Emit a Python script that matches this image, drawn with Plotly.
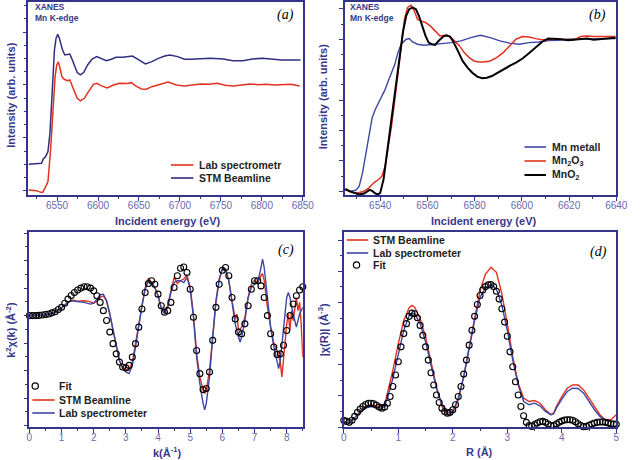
import plotly.graph_objects as go

# ---------------- data ----------------
# (a) XANES Mn K-edge
a_lab_E = [6515.1, 6525.0, 6530.2, 6532.6, 6536.1, 6538.9, 6542.1, 6544.8, 6547.6, 6549.6,
           6551.6, 6553.6, 6555.9, 6558.7, 6562.7, 6565.5, 6569.8, 6574.6, 6578.5, 6583.3,
           6588.4, 6594.4, 6598.4, 6604.3, 6611.4, 6618.2, 6626.1, 6636.0, 6640.8, 6645.9,
           6653.1, 6659.0, 6665.7, 6676.0, 6685.6, 6695.5, 6705.4, 6715.3, 6725.2, 6735.5,
           6745.4, 6755.3, 6765.2, 6775.5, 6785.4, 6795.3, 6805.3, 6815.6, 6825.5, 6835.4, 6846.1]
a_lab_I = [0.006, 0.0, -0.016, -0.016, 0.038, 0.085, 0.385, 0.763, 1.079, 1.189,
           1.218, 1.158, 1.079, 1.054, 1.041, 1.047, 0.968, 0.874, 0.849, 0.874,
           0.937, 1.006, 1.016, 0.991, 0.972, 0.997, 1.016, 1.013, 1.022, 0.991,
           0.962, 0.959, 0.984, 1.009, 1.028, 1.0, 0.991, 1.0, 1.009, 1.006,
           1.016, 0.997, 0.991, 1.0, 1.009, 1.003, 1.006, 1.0, 1.003, 1.006, 0.991]
a_stm_E = [6515.1, 6527.0, 6531.0, 6533.0, 6536.1, 6538.9, 6541.3, 6542.9, 6544.8, 6546.8,
           6548.8, 6550.8, 6552.8, 6554.8, 6556.7, 6559.5, 6562.7, 6565.5, 6567.8, 6570.6,
           6574.6, 6578.5, 6582.5, 6587.3, 6592.4, 6598.4, 6604.3, 6610.2, 6616.2, 6622.1,
           6630.1, 6636.0, 6642.0, 6649.9, 6657.8, 6665.7, 6673.7, 6681.6, 6687.5, 6697.4,
           6705.4, 6713.3, 6725.2, 6737.1, 6752.9, 6764.8, 6776.7, 6788.6, 6800.5, 6812.4,
           6824.3, 6836.2, 6847.3]
a_stm_I = [0.249, 0.252, 0.259, 0.297, 0.322, 0.369, 0.543, 0.763, 1.079, 1.331,
           1.442, 1.479, 1.442, 1.379, 1.331, 1.284, 1.290, 1.293, 1.252, 1.189,
           1.117, 1.095, 1.117, 1.189, 1.243, 1.268, 1.252, 1.230, 1.243, 1.262,
           1.262, 1.268, 1.274, 1.237, 1.199, 1.221, 1.252, 1.274, 1.284, 1.268,
           1.243, 1.243, 1.249, 1.252, 1.246, 1.230, 1.230, 1.246, 1.252, 1.243,
           1.237, 1.237, 1.237]

# (b) references
b_mn_E = [6525.2, 6527.7, 6529.7, 6531.1, 6532.5, 6533.8, 6535.2, 6536.6, 6537.9, 6539.3,
          6540.7, 6542.1, 6543.4, 6544.8, 6546.2, 6547.5, 6548.9, 6551.0, 6552.3, 6553.7,
          6555.8, 6558.5, 6561.9, 6566.0, 6570.1, 6574.2, 6578.4, 6582.5, 6586.6, 6590.7,
          6594.8, 6598.9, 6603.0, 6607.1, 6611.2, 6615.3, 6619.5, 6623.6, 6629.0, 6634.5, 6639.7]
b_mn_I = [0.007, 0.0, 0.007, 0.033, 0.121, 0.231, 0.363, 0.484, 0.538, 0.582,
          0.615, 0.670, 0.725, 0.780, 0.835, 0.912, 0.967, 1.0, 1.004, 0.982,
          0.967, 0.960, 0.967, 0.971, 0.978, 0.989, 1.011, 1.026, 1.011, 0.989,
          0.974, 0.967, 0.978, 0.982, 0.991, 0.993, 1.0, 1.0, 1.0, 1.004, 1.004]
b_mn2o3_E = [6525.2, 6527.7, 6530.4, 6533.2, 6535.2, 6537.3, 6539.3, 6540.7, 6542.1, 6543.4,
             6544.8, 6546.2, 6547.5, 6548.9, 6550.3, 6551.6, 6553.0, 6554.4, 6555.8, 6557.1,
             6559.2, 6561.2, 6563.3, 6565.3, 6567.4, 6569.5, 6571.5, 6573.6, 6575.6, 6577.7,
             6579.7, 6581.8, 6583.8, 6586.6, 6589.3, 6592.1, 6594.8, 6597.5, 6600.3, 6603.0,
             6605.8, 6608.5, 6611.2, 6614.0, 6616.7, 6619.5, 6622.2, 6624.9, 6627.7, 6630.4,
             6633.2, 6635.9, 6639.7]
b_mn2o3_I = [0.011, -0.007, -0.011, 0.0, 0.022, 0.055, 0.077, 0.099, 0.165, 0.297,
             0.429, 0.604, 0.780, 0.956, 1.132, 1.209, 1.224, 1.187, 1.132, 1.121,
             1.110, 1.088, 1.055, 1.022, 1.026, 1.018, 0.989, 0.956, 0.912, 0.879,
             0.857, 0.851, 0.851, 0.857, 0.879, 0.912, 0.956, 1.0, 1.018, 1.015,
             1.004, 0.996, 0.996, 1.004, 1.0, 0.996, 0.996, 1.018, 1.022, 1.018,
             1.018, 1.018, 1.018]
b_mno2_E = [6525.2, 6527.0, 6529.0, 6531.1, 6533.2, 6534.5, 6535.5, 6536.6, 6537.9, 6539.0,
            6540.0, 6541.4, 6542.7, 6544.1, 6545.5, 6546.8, 6548.2, 6549.6, 6551.0, 6552.3,
            6553.7, 6555.1, 6556.4, 6557.8, 6559.2, 6560.5, 6561.9, 6563.3, 6564.7, 6566.7,
            6568.1, 6569.5, 6570.8, 6572.9, 6574.9, 6577.0, 6579.0, 6581.1, 6583.2, 6585.2,
            6587.3, 6589.3, 6592.1, 6594.8, 6597.5, 6600.3, 6603.0, 6605.8, 6608.5, 6611.2,
            6614.0, 6616.7, 6619.5, 6622.2, 6624.9, 6627.7, 6630.4, 6633.2, 6635.9, 6639.7]
b_mno2_I = [0.015, 0.0, -0.011, -0.022, -0.015, 0.0, 0.009, 0.002, -0.015, -0.022,
            -0.011, 0.077, 0.231, 0.385, 0.538, 0.714, 0.890, 1.044, 1.154, 1.198,
            1.209, 1.198, 1.154, 1.088, 1.022, 0.978, 0.967, 0.963, 0.989, 1.018,
            1.026, 1.018, 0.989, 0.923, 0.857, 0.813, 0.780, 0.754, 0.743, 0.747,
            0.758, 0.776, 0.798, 0.824, 0.846, 0.873, 0.908, 0.945, 0.982, 1.004,
            1.004, 1.0, 0.993, 0.996, 1.0, 1.004, 0.996, 1.0, 1.004, 1.009]

# (c) k^2 chi(k)
c_fit_k = [round(0.1 * i, 1) for i in range(86)]
c_fit_chi = [0.0, 0.0, 0.0, 0.01, 0.02, 0.04, 0.06, 0.10, 0.14, 0.22,
             0.30, 0.45, 0.60, 0.73, 0.84, 0.93, 1.00, 1.05, 1.05, 1.00,
             0.90, 0.72, 0.48, 0.18, -0.18, -0.60, -1.02, -1.39, -1.69, -1.87,
             -1.90, -1.81, -1.51, -1.02, -0.42, 0.24, 0.84, 1.17, 1.27, 1.14,
             0.78, 0.36, 0.12, 0.18, 0.48, 1.02, 1.45, 1.72, 1.77, 1.57,
             0.96, -0.06, -1.27, -2.11, -2.69, -2.65, -2.05, -0.90, 0.30, 1.14,
             1.65, 1.75, 1.45, 0.66, -0.12, -0.60, -0.66, -0.30, 0.36, 0.96,
             1.27, 1.27, 1.08, 0.66, 0.00, -0.66, -1.14, -1.41, -1.39, -1.08,
             -0.54, 0.00, 0.42, 0.72, 0.93, 1.05]
c_stm_k = [0.0, 0.2, 0.4, 0.6, 0.8, 1.0, 1.2, 1.35, 1.5, 1.7, 1.85, 2.0, 2.1, 2.2, 2.3, 2.4,
           2.5, 2.6, 2.7, 2.8, 2.9, 3.0, 3.1, 3.2, 3.3, 3.4, 3.5, 3.6, 3.7, 3.8, 3.9, 4.0,
           4.1, 4.2, 4.3, 4.4, 4.5, 4.6, 4.7, 4.8, 4.9, 5.0, 5.1, 5.2, 5.3, 5.4, 5.45, 5.5,
           5.6, 5.7, 5.8, 5.9, 6.0, 6.1, 6.2, 6.3, 6.4, 6.45, 6.5, 6.6, 6.7, 6.8, 6.9, 7.0,
           7.1, 7.2, 7.25, 7.3, 7.4, 7.5, 7.6, 7.7, 7.8, 7.85, 7.9, 8.0, 8.05, 8.1, 8.15, 8.2,
           8.3, 8.35, 8.4, 8.45, 8.5]
c_stm_chi = [0.0, 0.0, 0.02, 0.06, 0.13, 0.28, 0.48, 0.57, 0.52, 0.54, 0.52, 0.45, 0.52, 0.66, 0.72, 0.54,
             0.06, -0.54, -1.14, -1.63, -1.87, -1.96, -1.99, -1.69, -1.02, -0.30, 0.42, 1.02, 1.36, 1.20, 1.02, 0.72,
             0.30, 0.12, 0.36, 0.90, 1.39, 1.17, 1.27, 1.33, 1.48, 1.02, 0.06, -1.39, -2.23, -2.71, -2.83, -2.71,
             -1.99, -0.78, 0.48, 1.27, 1.69, 1.63, 1.27, 0.54, -0.12, 0.06, -0.54, -0.42, -0.06, 0.66, 1.14, 1.29,
             1.20, 1.45, 1.53, 1.27, 0.30, -0.42, -1.02, -1.27, -1.69, -2.23, -1.51, -0.30, 0.06, -0.54, 0.18, -0.18,
             0.66, 0.18, 0.48, -0.30, -1.51]
c_lab_k = [0.0, 0.2, 0.4, 0.6, 0.8, 1.0, 1.2, 1.3, 1.5, 1.7, 1.9, 2.0, 2.1, 2.2, 2.3, 2.4,
           2.5, 2.6, 2.7, 2.8, 2.9, 3.0, 3.1, 3.2, 3.3, 3.4, 3.5, 3.6, 3.7, 3.8, 3.9, 4.0,
           4.1, 4.2, 4.3, 4.4, 4.5, 4.6, 4.7, 4.8, 4.9, 5.0, 5.1, 5.2, 5.3, 5.4, 5.45, 5.5,
           5.6, 5.7, 5.8, 5.9, 6.0, 6.1, 6.2, 6.3, 6.4, 6.5, 6.55, 6.6, 6.7, 6.8, 6.9, 7.0,
           7.1, 7.2, 7.25, 7.3, 7.4, 7.5, 7.6, 7.7, 7.75, 7.8, 7.9, 8.0, 8.05, 8.1, 8.2, 8.3,
           8.4, 8.5]
c_lab_chi = [0.0, 0.0, 0.02, 0.06, 0.13, 0.28, 0.49, 0.54, 0.52, 0.48, 0.42, 0.45, 0.60, 0.76, 0.78, 0.54,
             0.06, -0.54, -1.14, -1.63, -1.93, -2.05, -2.11, -1.81, -1.14, -0.36, 0.36, 0.96, 1.27, 1.20, 1.02, 0.72,
             0.24, 0.08, 0.30, 0.84, 1.20, 1.27, 1.27, 1.20, 1.39, 0.96, -0.06, -1.51, -2.47, -3.19, -3.43, -3.19,
             -2.23, -0.78, 0.54, 1.33, 1.72, 1.69, 1.27, 0.48, -0.30, -0.78, -0.96, -0.78, -0.18, 0.66, 1.02, 1.14,
             1.20, 1.75, 2.05, 1.75, 0.66, -0.42, -1.14, -1.75, -1.93, -1.63, -0.54, 0.66, 0.84, 0.66, 0.06, -0.42,
             0.06, 0.30]

# (d) |chi(R)|
d_R = [0.0, 0.1, 0.2, 0.3, 0.4, 0.5, 0.6, 0.7, 0.75, 0.8, 0.9, 1.0, 1.1, 1.2, 1.25, 1.3, 1.4,
       1.5, 1.6, 1.7, 1.8, 1.9, 1.95, 2.0, 2.1, 2.2, 2.3, 2.4, 2.5, 2.6, 2.7, 2.8, 2.9,
       3.0, 3.1, 3.2, 3.3, 3.4, 3.5, 3.6, 3.7, 3.8, 3.85, 3.9, 4.0, 4.1, 4.2, 4.3, 4.4,
       4.5, 4.6, 4.7, 4.8, 4.9, 5.0]
d_stm = [0.036, 0.026, 0.057, 0.100, 0.132, 0.143, 0.136, 0.132, 0.143, 0.217, 0.366, 0.536, 0.685, 0.766, 0.781, 0.770, 0.696,
         0.579, 0.409, 0.260, 0.132, 0.079, 0.072, 0.089, 0.174, 0.323, 0.515, 0.706, 0.877, 0.983, 1.026, 0.994, 0.855,
         0.664, 0.451, 0.281, 0.185, 0.164, 0.170, 0.153, 0.111, 0.079, 0.089, 0.132, 0.196, 0.249, 0.270, 0.270, 0.238,
         0.185, 0.132, 0.079, 0.047, 0.047, 0.079]
d_lab = [0.036, 0.026, 0.057, 0.094, 0.121, 0.132, 0.126, 0.121, 0.136, 0.185, 0.313, 0.472, 0.621, 0.717, 0.732, 0.728, 0.664,
         0.547, 0.387, 0.249, 0.143, 0.094, 0.089, 0.100, 0.185, 0.323, 0.504, 0.685, 0.834, 0.898, 0.915, 0.887, 0.781,
         0.621, 0.430, 0.270, 0.164, 0.143, 0.153, 0.136, 0.100, 0.079, 0.085, 0.121, 0.179, 0.228, 0.249, 0.247, 0.217,
         0.164, 0.111, 0.068, 0.043, 0.036, 0.036]
d_fit_R = [round(0.05 * i, 2) for i in range(101)]
d_fit = [0.043, 0.036, 0.030, 0.043, 0.068, 0.094, 0.115, 0.132, 0.145, 0.153,
         0.153, 0.149, 0.140, 0.128, 0.121, 0.128, 0.153, 0.196, 0.260, 0.334,
         0.419, 0.515, 0.600, 0.664, 0.711, 0.732, 0.728, 0.702, 0.653, 0.589,
         0.515, 0.430, 0.349, 0.270, 0.206, 0.157, 0.121, 0.100, 0.089, 0.094,
         0.111, 0.143, 0.196, 0.260, 0.340, 0.430, 0.526, 0.621, 0.711, 0.787,
         0.845, 0.881, 0.902, 0.913, 0.915, 0.902, 0.872, 0.823, 0.760, 0.674,
         0.583, 0.483, 0.387, 0.291, 0.206, 0.132, 0.072, 0.030, 0.009, 0.004,
         0.015, 0.026, 0.034, 0.036, 0.030, 0.019, 0.009, 0.009, 0.019, 0.030,
         0.038, 0.045, 0.047, 0.047, 0.043, 0.034, 0.021, 0.009, 0.002, 0.004,
         0.011, 0.019, 0.026, 0.030, 0.032, 0.032, 0.030, 0.026, 0.021, 0.019, 0.017]

# ---------------- style ----------------
W, H = 640, 460
FONT = "Liberation Sans, Arial, sans-serif"
SERIF = "Liberation Serif, Times New Roman, serif"
AX = "#34348a"
TICK = "#6a6ab0"
TITLE = "#38388a"
RED = "#e2321f"
NAVY = "#2f2f80"
BLUE = "#3c46a8"
LEG = "#1e1e1e"


def px(x):
    return x / W


def py(y):
    return 1 - y / H


def axis(domain, rng, dtick, mdtick, labels, anchor, tick0=0):
    return dict(domain=domain, range=rng, anchor=anchor, showline=True, mirror=True,
                linecolor=AX, linewidth=1.5, ticks="outside", ticklen=4, tickwidth=1.2,
                tickcolor=AX, tick0=tick0, dtick=dtick, showgrid=False, zeroline=False,
                showticklabels=labels, ticklabelstandoff=-4,
                tickfont=dict(family=FONT, size=10, color=TICK),
                minor=dict(dtick=mdtick, ticks="outside", ticklen=2.5, tickwidth=1,
                           tickcolor=AX, showgrid=False))


fig = go.Figure()
fig.add_trace(go.Scatter(x=a_lab_E, y=a_lab_I, mode="lines", line=dict(color=RED, width=1.5),
                         xaxis="x", yaxis="y", showlegend=False))
fig.add_trace(go.Scatter(x=a_stm_E, y=a_stm_I, mode="lines", line=dict(color=NAVY, width=1.5),
                         xaxis="x", yaxis="y", showlegend=False))
fig.add_trace(go.Scatter(x=b_mn_E, y=b_mn_I, mode="lines", line=dict(color=BLUE, width=1.4),
                         xaxis="x2", yaxis="y2", showlegend=False))
fig.add_trace(go.Scatter(x=b_mn2o3_E, y=b_mn2o3_I, mode="lines", line=dict(color=RED, width=1.5),
                         xaxis="x2", yaxis="y2", showlegend=False))
fig.add_trace(go.Scatter(x=b_mno2_E, y=b_mno2_I, mode="lines", line=dict(color="#000000", width=2),
                         xaxis="x2", yaxis="y2", showlegend=False))
fit_marker = dict(symbol="circle-open", size=6, color="#000000", line=dict(width=1.1, color="#000000"))
fig.add_trace(go.Scatter(x=c_stm_k, y=c_stm_chi, mode="lines", line=dict(color=RED, width=1.4),
                         xaxis="x3", yaxis="y3", showlegend=False))
fig.add_trace(go.Scatter(x=c_lab_k, y=c_lab_chi, mode="lines", line=dict(color=BLUE, width=1.4),
                         xaxis="x3", yaxis="y3", showlegend=False))
fig.add_trace(go.Scatter(x=c_fit_k, y=c_fit_chi, mode="markers", marker=fit_marker, cliponaxis=False,
                         xaxis="x3", yaxis="y3", showlegend=False))
fig.add_trace(go.Scatter(x=d_R, y=d_stm, mode="lines", line=dict(color=RED, width=1.4),
                         xaxis="x4", yaxis="y4", showlegend=False))
fig.add_trace(go.Scatter(x=d_R, y=d_lab, mode="lines", line=dict(color=BLUE, width=1.4),
                         xaxis="x4", yaxis="y4", showlegend=False))
fig.add_trace(go.Scatter(x=d_fit_R, y=d_fit, mode="markers", marker=fit_marker, cliponaxis=False,
                         xaxis="x4", yaxis="y4", showlegend=False))

top_dom = [py(195), py(2)]
bot_dom = [py(427), py(232)]
fig.update_layout(
    width=W, height=H, margin=dict(l=0, r=0, t=0, b=0),
    paper_bgcolor="white", plot_bgcolor="white", showlegend=False,
    font=dict(family=FONT),
    xaxis=axis([px(26), px(307)], [6515, 6850], 50, 25, True, "y"),
    yaxis=axis(top_dom, [-0.041, 1.785], 0.5, 0.125, False, "x"),
    xaxis2=axis([px(350), px(628)], [6525, 6640], 20, 10, True, "y2"),
    yaxis2=axis(top_dom, [-0.025, 1.245], 0.2, 0.1, False, "x2"),
    xaxis3=axis([px(27), px(307)], [0, 8.5], 1, 0.5, True, "y3"),
    yaxis3=axis(bot_dom, [-4.05, 3.04], 1, 0.5, False, "x3"),
    xaxis4=axis([px(349), px(628)], [0, 5], 1, 0.5, True, "y4"),
    yaxis4=axis(bot_dom, [0, 1.253], 0.2, 0.1, False, "x4"),
)

ann = []


def text(x, y, t, size=11, color=TITLE, xanchor="left", angle=0, family=FONT, bold=True):
    ann.append(dict(x=px(x), y=py(y), xref="paper", yref="paper", showarrow=False,
                    text=("<b>%s</b>" % t) if bold else t, textangle=angle,
                    xanchor=xanchor, yanchor="middle",
                    font=dict(family=family, size=size, color=color)))


# axis titles
text(168, 221, "Incident energy (eV)", xanchor="center")
text(492, 221, "Incident energy (eV)", xanchor="center")
text(168, 452, "k(Å<sup>-1</sup>)", xanchor="center")
text(488, 452, "R (Å)", xanchor="center")
text(8, 95, "Intensity (arb. units)", xanchor="center", angle=-90)
text(328, 97, "Intensity (arb. units)", xanchor="center", angle=-90)
text(8, 330, "k<sup>2</sup>χ(k) (Å<sup>-2</sup>)", xanchor="center", angle=-90)
text(328, 330, "|χ(R)| (Å<sup>-3</sup>)", xanchor="center", angle=-90)

# XANES labels
for x0 in (31, 353):
    text(x0, 7, "XANES", size=8.5)
    text(x0, 18, "Mn K-edge", size=8.5)

# panel labels
for (x0, y0, lab) in [(289, 15, "a"), (609, 15, "b"), (290, 250, "c"), (610, 252, "d")]:
    text(x0, y0, "<i>(%s)</i>" % lab, size=14, color="#000000", xanchor="center",
         family=SERIF, bold=False)

shapes = []


def leg_line(x0, x1, y, color, width=1.6):
    shapes.append(dict(type="line", xref="paper", yref="paper", x0=px(x0), x1=px(x1),
                       y0=py(y), y1=py(y), line=dict(color=color, width=width)))


def leg_circle(cx, cy, r=3.2):
    shapes.append(dict(type="circle", xref="paper", yref="paper", x0=px(cx - r), x1=px(cx + r),
                       y0=py(cy + r), y1=py(cy - r), line=dict(color="#000000", width=1.2)))


# legend (a)
leg_line(172, 195, 165, RED)
text(199, 165, "Lab spectrometr", size=10.5, color=LEG)
leg_line(172, 195, 178, NAVY)
text(199, 178, "STM Beamline", size=10.5, color=LEG)
# legend (b)
leg_line(534, 556, 147, BLUE)
text(560, 147, "Mn metall", size=10.5, color=LEG)
leg_line(534, 556, 161, RED)
text(560, 161, "Mn<sub>2</sub>O<sub>3</sub>", size=10.5, color=LEG)
leg_line(534, 556, 175, "#000000", 2)
text(560, 175, "MnO<sub>2</sub>", size=10.5, color=LEG)
# legend (c)
leg_circle(33, 386)
text(55, 386, "Fit", size=10.5, color=LEG)
leg_line(30, 53, 400, RED)
text(55, 400, "STM Beamline", size=10.5, color=LEG)
leg_line(30, 53, 413, BLUE)
text(55, 413, "Lab spectrometer", size=10.5, color=LEG)
# legend (d)
leg_line(352, 374, 240, RED)
text(377, 240, "STM Beamline", size=10.5, color=LEG)
leg_line(352, 374, 253, BLUE)
text(377, 253, "Lab spectrometer", size=10.5, color=LEG)
leg_circle(362, 265)
text(377, 265, "Fit", size=10.5, color=LEG)

fig.update_layout(annotations=ann, shapes=shapes)
fig.write_html("out.html", config={"displayModeBar": False},
               post_script="document.body.style.margin='0';")
